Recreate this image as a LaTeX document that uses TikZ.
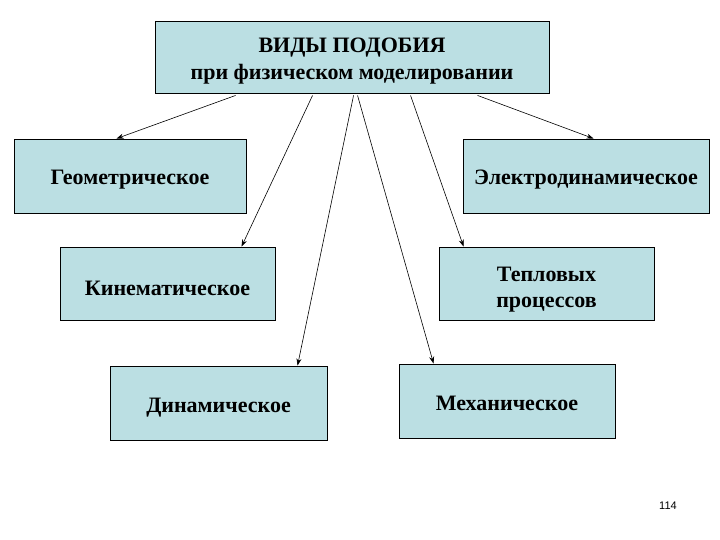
\documentclass[tikz,border=0pt]{standalone}
\usepackage{fontspec}
\setmainfont{Liberation Serif}
\newfontfamily\pagefont{Liberation Sans}
\usetikzlibrary{arrows.meta,calc}
\definecolor{boxfill}{RGB}{187,223,227}
\newcommand\twoln[2]{\begin{tabular}[t]{@{}c@{}}#1\\#2\end{tabular}}
\begin{document}
\begin{tikzpicture}[x=1pt,y=-1pt,
  box/.style={draw=black,line width=0.9pt,fill=boxfill,rectangle,inner sep=0pt,
    font=\fontsize{22}{27}\selectfont\bfseries,text height=18pt,text depth=0pt},
  conn/.style={draw=black,line width=0.6pt,-{Stealth[length=7pt,width=5pt]}}]
\useasboundingbox (0,0) rectangle (720,540);
\fill[white] (0,0) rectangle (720,540);
\node[box,minimum width=394pt,minimum height=72pt,text height=10pt,text depth=18pt] (top) at (352,57)
  {\twoln{ВИДЫ ПОДОБИЯ}{при физическом моделировании}};
\node[box,minimum width=232pt,minimum height=74pt] (geo) at (130,176) {Геометрическое};
\node[box,minimum width=246pt,minimum height=74pt] (el) at (586,176) {Электродинамическое};
\node[box,minimum width=215pt,minimum height=73pt,text height=23pt] (kin) at (167.5,283.5) {Кинематическое};
\node[box,minimum width=215pt,minimum height=73pt,text height=10pt,text depth=15pt,
  font=\fontsize{22}{26}\selectfont\bfseries] (tep) at (546.5,283.5) {\twoln{Тепловых}{процессов}};
\node[box,minimum width=217pt,minimum height=74pt] (din) at (218.5,403) {Динамическое};
\node[box,minimum width=216pt,minimum height=74pt] (mex) at (507,401) {Механическое};
\node[font=\pagefont\fontsize{11}{13}\selectfont] (pg) at (668,506) {114};
\coordinate (s1) at ($(top.south west)+(81,2)$);
\coordinate (s2) at ($(top.south west)+(158,2)$);
\coordinate (s3) at ($(top.south west)+(199,2)$);
\coordinate (s4) at ($(top.south west)+(203,2)$);
\coordinate (s5) at ($(top.south west)+(256,2)$);
\coordinate (s6) at ($(top.south west)+(323,2)$);
\coordinate (e1) at ($(geo.north west)+(103,0)$);
\coordinate (e2) at ($(kin.north west)+(182,0)$);
\coordinate (e3) at ($(din.north west)+(188,0)$);
\coordinate (e4) at ($(mex.north west)+(35,0)$);
\coordinate (e5) at ($(tep.north west)+(25,0)$);
\coordinate (e6) at ($(el.north west)+(131,0)$);
\draw[conn] (s1) -- (e1);
\draw[conn] (s2) -- (e2);
\draw[conn] (s3) -- (e3);
\draw[conn] (s4) -- (e4);
\draw[conn] (s5) -- (e5);
\draw[conn] (s6) -- (e6);
\end{tikzpicture}
\end{document}
